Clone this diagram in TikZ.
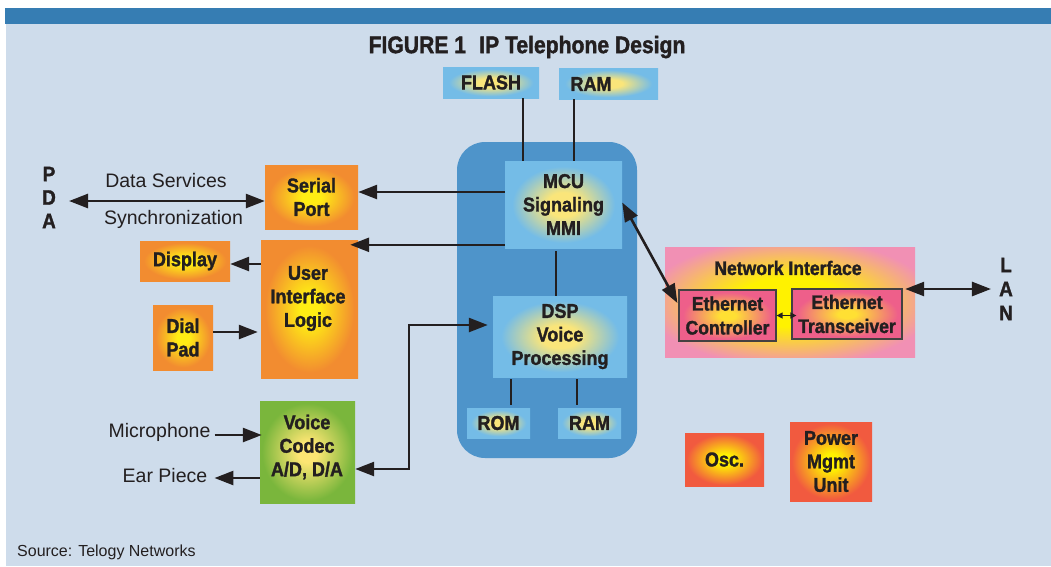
\documentclass[tikz,border=0pt]{standalone}
\usepackage{fontspec}
\setmainfont{Liberation Sans}
\newfontfamily\condfont[FakeStretch=0.9, BoldFeatures={FakeBold=1.5}]{Liberation Sans}
\newfontfamily\headfont[FakeStretch=0.88, BoldFeatures={FakeBold=1.5}]{Liberation Sans}
\usetikzlibrary{arrows.meta}

\definecolor{ink}{HTML}{231F20}
\definecolor{pagebg}{HTML}{CEDCEB}
\definecolor{topbar}{HTML}{367DB3}
\definecolor{coreblue}{HTML}{4E94CA}

% radial glows: yellow centre fading to the block colour
\pgfdeclareradialshading{orangeglow}{\pgfpointorigin}{rgb(0bp)=(1,0.93,0.08); rgb(5bp)=(1,0.93,0.08); rgb(23bp)=(0.949,0.549,0.188); rgb(50bp)=(0.949,0.549,0.188)}
\pgfdeclareradialshading{blueglow}{\pgfpointorigin}{rgb(0bp)=(0.98,0.90,0.48); rgb(7bp)=(0.98,0.90,0.48); rgb(22bp)=(0.455,0.737,0.906); rgb(50bp)=(0.455,0.737,0.906)}
\pgfdeclareradialshading{greenglow}{\pgfpointorigin}{rgb(0bp)=(0.99,0.90,0.45); rgb(5bp)=(0.99,0.90,0.45); rgb(24bp)=(0.478,0.714,0.235); rgb(50bp)=(0.478,0.714,0.235)}
\pgfdeclareradialshading{pinkglow}{\pgfpointorigin}{rgb(0bp)=(1,0.95,0); rgb(11bp)=(1,0.95,0); rgb(29bp)=(0.945,0.565,0.706); rgb(50bp)=(0.945,0.565,0.706)}
\pgfdeclareradialshading{roseglow}{\pgfpointorigin}{rgb(0bp)=(1,0.88,0.2); rgb(4bp)=(1,0.88,0.2); rgb(23bp)=(0.933,0.373,0.541); rgb(50bp)=(0.933,0.373,0.541)}
\pgfdeclareradialshading{redglow}{\pgfpointorigin}{rgb(0bp)=(1,0.95,0); rgb(5bp)=(1,0.95,0); rgb(24bp)=(0.945,0.353,0.247); rgb(50bp)=(0.945,0.353,0.247)}

\begin{document}
\begin{tikzpicture}[x=1pt,y=-1pt,
  txt/.style={inner sep=0pt, text=ink, font=\fontsize{19.5}{23}\selectfont},
  boxtxt/.style={inner sep=0pt, align=center, text=ink, font=\condfont\bfseries\fontsize{20}{23.5}\selectfont},
  orangebox/.style={boxtxt, shading=orangeglow},
  bluebox/.style={boxtxt, shading=blueglow},
  greenbox/.style={boxtxt, shading=greenglow},
  redbox/.style={boxtxt, shading=redglow},
  ethbox/.style={boxtxt, shading=roseglow, draw=ink!85, line width=1.2pt, font=\condfont\bfseries\fontsize{19.5}{24}\selectfont},
  conn/.style={draw=ink, line width=2.6pt},
  arr/.style={conn, -{Triangle[length=19pt,width=14pt]}},
  darr/.style={conn, {Triangle[length=19pt,width=14pt]}-{Triangle[length=19pt,width=14pt]}},
  minidarr/.style={draw=ink, line width=1.3pt, {Triangle[length=6pt,width=6pt]}-{Triangle[length=6pt,width=6pt]}}
]
\useasboundingbox (0,0) rectangle (1051,566);
\fill[white] (0,0) rectangle (1051,566);
\fill[topbar] (5,8) rectangle (1051,24);
\fill[pagebg] (6,24) rectangle (1051,566);

% heading
\node[text=ink, inner sep=0pt, font=\headfont\bfseries\fontsize{24}{27}\selectfont] (title) at (527,47) {FIGURE 1\hspace{0.55em}IP Telephone Design};

% processor core
\node[fill=coreblue, rounded corners=28pt, minimum width=180pt, minimum height=316pt, inner sep=0pt] (core) at (547,300) {};

% memories on the MCU bus
\node[bluebox, minimum width=96pt, minimum height=31pt] (flash) at (491,82.5) {FLASH};
\node[bluebox, minimum width=99pt, minimum height=31pt] (ramtop) at (608.5,83.5) {};
\node[boxtxt] (ramtoptext) at (591,84) {RAM};

\node[bluebox, minimum width=117pt, minimum height=87pt] (mcu) at (563.5,204.5) {MCU\\Signaling\\MMI};
\node[bluebox, minimum width=134pt, minimum height=81pt] (dsp) at (560,336.5) {DSP\\Voice\\Processing};
\node[bluebox, minimum width=63pt, minimum height=30pt] (rom) at (498.5,423) {ROM};
\node[bluebox, minimum width=63pt, minimum height=30pt] (rambot) at (589.5,423) {RAM};

% user side blocks
\node[orangebox, minimum width=93pt, minimum height=64pt] (serial) at (311.5,197) {Serial\\Port};
\node[orangebox, minimum width=90pt, minimum height=40pt] (display) at (185,261) {Display};
\node[orangebox, minimum width=97pt, minimum height=138pt] (uil) at (309.5,309) {};
\node[boxtxt] (uiltext) at (308,298.5) {User\\Interface\\Logic};
\node[orangebox, minimum width=60pt, minimum height=65pt] (dial) at (183,337.5) {Dial\\Pad};
\node[greenbox, minimum width=95pt, minimum height=102pt] (codec) at (307.5,452) {};
\node[boxtxt] (codectext) at (307,447) {Voice\\Codec\\A/D, D/A};

% network side
\node[shading=pinkglow, minimum width=250pt, minimum height=110pt, inner sep=0pt] (ni) at (790,302) {};
\node[boxtxt, font=\condfont\bfseries\fontsize{19.5}{23}\selectfont] (nitext) at (788,268) {Network Interface};
\node[ethbox, minimum width=97pt, minimum height=51pt] (ec) at (727.5,315.5) {Ethernet\\Controller};
\node[ethbox, minimum width=110pt, minimum height=50pt] (et) at (847,314) {Ethernet\\Transceiver};

\node[redbox, minimum width=79pt, minimum height=53pt] (osc) at (724.5,459.5) {Osc.};
\node[redbox, minimum width=82pt, minimum height=79pt] (pmu) at (831,461.5) {Power\\Mgmt\\Unit};

% end points
\node[boxtxt, font=\condfont\bfseries\fontsize{21}{23.5}\selectfont] (pda) at (49,197.5) {P\\D\\A};
\node[boxtxt, font=\condfont\bfseries\fontsize{21}{24}\selectfont] (lan) at (1006,289) {L\\A\\N};
\node[txt] (datasvc) at (166,181) {Data Services};
\node[txt] (sync) at (173.5,219) {Synchronization};
\node[txt] (mic) at (159.5,432) {Microphone};
\node[txt] (ear) at (165,476) {Ear Piece};
\node[txt, anchor=west, font=\fontsize{16}{19}\selectfont] (source) at (17,552) {Source: Telogy Networks};

% bus lines
\draw[conn] ([xshift=32pt]flash.south) -- ([xshift=32pt]flash.south |- mcu.north);
\draw[conn] ([xshift=-34.5pt]ramtop.south) -- ([xshift=-34.5pt]ramtop.south |- mcu.north);
\draw[conn] ([xshift=-7.5pt,yshift=-3pt]mcu.south) -- ([xshift=-7.5pt]mcu.south |- dsp.north);
\draw[conn] ([xshift=12.5pt,yshift=-2pt]rom.north |- dsp.south) -- ([xshift=12.5pt,yshift=3pt]rom.north);
\draw[conn] ([xshift=-12.5pt,yshift=-2pt]rambot.north |- dsp.south) -- ([xshift=-12.5pt,yshift=3pt]rambot.north);

% signal arrows
\draw[arr] ([yshift=5pt]serial.east -| mcu.west) -- ([yshift=5pt]serial.east);
\draw[arr] ([yshift=-5pt]uil.north east -| mcu.west) -- ([xshift=-8pt,yshift=-5pt]uil.north east);
\draw[darr] ([xshift=13pt,yshift=-4pt]pda.east |- serial.west) -- ([yshift=-4pt]serial.west);
\draw[arr] ([yshift=-3pt]display.east -| uil.west) -- ([yshift=-3pt]display.east);
\draw[arr] ([yshift=5.5pt]dial.east) -- ([xshift=-3pt,yshift=5.5pt]dial.east -| uil.west);
\draw[arr] ([xshift=4pt,yshift=-3pt]mic.east) -- ([xshift=2pt,yshift=-3pt]mic.east -| codec.west);
\draw[arr] ([yshift=-2pt]ear.east -| codec.west) -- ([xshift=7pt,yshift=-2pt]ear.east);
\coordinate (tap) at (409,400);
\draw[darr] ([xshift=-5pt,yshift=11.5pt]dsp.west) -| (tap) |- ([yshift=-17pt]codec.east);
\draw[darr] ([yshift=2pt]mcu.east) -- ([xshift=-1pt,yshift=12.5pt]ec.west);
\draw[minidarr] (ec.east) -- ([xshift=5pt]ec.east -| et.west);
\draw[darr] ([xshift=-10pt]ni.east |- lan.west) -- ([xshift=-8pt]lan.west);
\end{tikzpicture}
\end{document}
